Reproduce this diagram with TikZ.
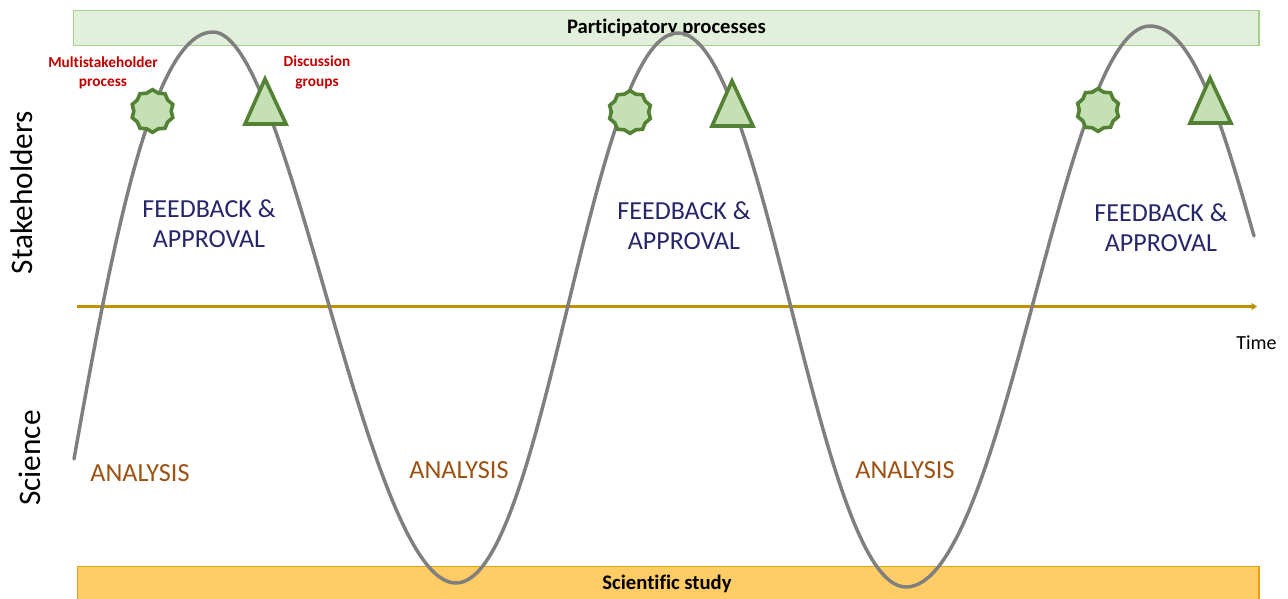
\documentclass[tikz,border=0pt]{standalone}
\usepackage{fontspec}
\setmainfont[Ligatures=CommonOff]{Carlito}
\usetikzlibrary{shapes.geometric,arrows.meta}
\definecolor{topfill}{HTML}{E2EFDA}
\definecolor{topline}{HTML}{A9D18E}
\definecolor{botfill}{HTML}{FFCC66}
\definecolor{botline}{HTML}{E6A117}
\definecolor{axiscol}{HTML}{BF9000}
\definecolor{curvecol}{HTML}{7F7F7F}
\definecolor{markfill}{HTML}{C5E0B4}
\definecolor{markline}{HTML}{548235}
\definecolor{navytxt}{HTML}{262668}
\definecolor{browntxt}{HTML}{9C5212}
\definecolor{redtxt}{HTML}{C00000}
\tikzset{
 band/.style={line width=1.1pt, inner sep=0pt, anchor=north west, font=\fontsize{15.5}{18}\selectfont\bfseries, text=black},
 burst/.style={star, star points=10, star point ratio=1.14, draw=markline, fill=markfill, line width=2.7pt, inner sep=0pt, minimum size=32pt},
 tri/.style={draw=markline, fill=markfill, line width=2.7pt, line join=miter},
 feedback/.style={align=center, text=navytxt, font=\fontsize{19.5}{22.5}\selectfont},
 analysis/.style={text=browntxt, font=\fontsize{19.6}{22}\selectfont},
 redlabel/.style={align=center, text=redtxt, font=\fontsize{11.5}{14.5}\selectfont\bfseries},
 sidelabel/.style={rotate=90, font=\fontsize{23.5}{27}\selectfont},
}
\begin{document}
\begin{tikzpicture}[x=0.75pt,y=-0.75pt]
\useasboundingbox (0,0) rectangle (1288,599);
\fill[white] (0,0) rectangle (1288,599);
\node[band, draw=topline, fill=topfill, minimum width=889pt, minimum height=26pt] (top) at (73,10) {Participatory processes};
\node[band, draw=botline, fill=botfill, minimum width=886pt, minimum height=33pt, anchor=north west] (bot) at (77,566) {};
\node[font=\fontsize{15.5}{18}\selectfont\bfseries] (study) at (667,583.5) {Scientific study};
\coordinate (axs) at (77,306.5);
\coordinate (axe) at (1257,306.5);
\draw[axiscol, line width=2.25pt, -{Triangle[length=4pt,width=5pt]}] (axs) -- (axe);
\coordinate (c0) at (74,459);
\coordinate (t1) at (213,32);
\coordinate (b1) at (456,583);
\coordinate (t2) at (678,33);
\coordinate (b2) at (906,587);
\coordinate (t3) at (1150,26);
\coordinate (c1) at (1254,236);
\draw[curvecol, line width=2.6pt, line cap=round]
 (c0) .. controls (113,240) and (153,32) .. (t1)
 .. controls (290,32) and (366,583) .. (b1)
 .. controls (545,583) and (590,33) .. (t2)
 .. controls (765,33) and (818,587) .. (b2)
 .. controls (1005,587) and (1062,26) .. (t3)
 .. controls (1195,26) and (1225,135) .. (c1);
\node[burst] (s1) at (152.5,111) {};
\node[burst] (s2) at (630,112) {};
\node[burst] (s3) at (1098,110) {};
\draw[tri] (265,79) -- (286,124) -- (245,124) -- cycle;
\draw[tri] (732,81) -- (753,126) -- (712,126) -- cycle;
\draw[tri] (1210,78) -- (1231,123) -- (1190,123) -- cycle;
\node[redlabel] (l1) at (103,72.5) {Multistakeholder\\process};
\node[redlabel] (l2) at (317,72.5) {Discussion\\groups};
\node[feedback] (f1) at (209,223.5) {FEEDBACK \&\\APPROVAL};
\node[feedback] (f2) at (684,225.5) {FEEDBACK \&\\APPROVAL};
\node[feedback] (f3) at (1161,227.5) {FEEDBACK \&\\APPROVAL};
\node[analysis] (a1) at (140,473) {ANALYSIS};
\node[analysis] (a2) at (459,470) {ANALYSIS};
\node[analysis] (a3) at (905,470) {ANALYSIS};
\node[font=\fontsize{15}{18}\selectfont] (time) at (1256.5,343) {Time};
\node[sidelabel] (st) at (22,192.5) {Stakeholders};
\node[sidelabel] (sc) at (30,458) {Science};
\end{tikzpicture}
\end{document}
